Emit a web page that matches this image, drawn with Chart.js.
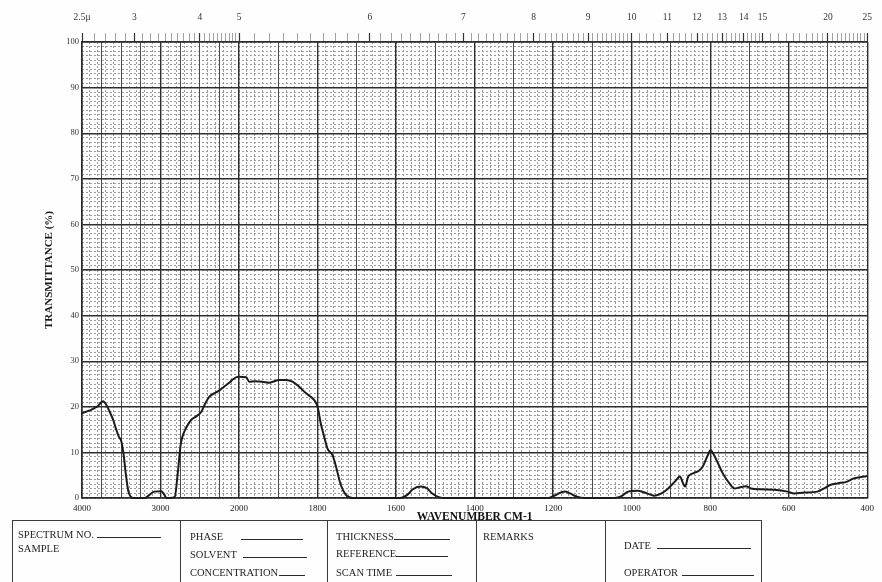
<!DOCTYPE html>
<html>
<head>
<meta charset="utf-8">
<title>Infrared spectrum</title>
<script src="https://cdn.jsdelivr.net/npm/chart.js@4/dist/chart.umd.min.js"></script>
<style>
  html, body { margin: 0; padding: 0; background: #ffffff; }
  #sheet { position: relative; width: 882px; height: 582px; overflow: hidden; background: #fefefe; }
  #spectrum { position: absolute; left: 0; top: 0; }
  .form-box { position: absolute; left: 12px; top: 520px; width: 750px; height: 80px; border: 1px solid #3a3a3a; box-sizing: border-box; }
  .form-col { position: absolute; top: 520px; width: 0; height: 70px; border-left: 1px solid #3a3a3a; }
  .fld { position: absolute; font-family: 'Liberation Serif', 'DejaVu Serif', serif; font-size: 10.5px; line-height: 12px; color: #1e1e1e; white-space: nowrap; }
  .ln { display: inline-block; border-bottom: 1px solid #2a2a2a; height: 8px; vertical-align: baseline; margin-left: 3px; }
</style>
</head>
<body>
<div id="sheet">
  <canvas id="spectrum" width="882" height="582"></canvas>

  <div class="form-box"></div>
  <div class="form-col" style="left:180px"></div>
  <div class="form-col" style="left:327px"></div>
  <div class="form-col" style="left:476px"></div>
  <div class="form-col" style="left:605px"></div>

  <div class="fld" style="left:18px;top:529px">SPECTRUM NO.<span class="ln" style="width:64px"></span></div>
  <div class="fld" style="left:18px;top:543px">SAMPLE</div>

  <div class="fld" style="left:190px;top:531px">PHASE<span class="ln" style="width:62px;margin-left:18px"></span></div>
  <div class="fld" style="left:190px;top:549px">SOLVENT<span class="ln" style="width:64px;margin-left:6px"></span></div>
  <div class="fld" style="left:190px;top:567px">CONCENTRATION<span class="ln" style="width:26px;margin-left:1px"></span></div>

  <div class="fld" style="left:336px;top:531px">THICKNESS<span class="ln" style="width:56px;margin-left:0"></span></div>
  <div class="fld" style="left:336px;top:548px">REFERENCE<span class="ln" style="width:52px;margin-left:0"></span></div>
  <div class="fld" style="left:336px;top:567px">SCAN TIME<span class="ln" style="width:56px;margin-left:4px"></span></div>

  <div class="fld" style="left:483px;top:531px">REMARKS</div>

  <div class="fld" style="left:624px;top:540px">DATE<span class="ln" style="width:94px;margin-left:6px"></span></div>
  <div class="fld" style="left:624px;top:567px">OPERATOR<span class="ln" style="width:72px;margin-left:4px"></span></div>
</div>

<script>
// Recorded trace: wavenumber (cm-1) and transmittance (%)
const wavenumber = [
  4000, 3900, 3810, 3730, 3690, 3645, 3600, 3560, 3530, 3500, 3470, 3440, 3410, 3380, 3350,
  3200, 3140, 3080, 2990, 2950, 2925, 2880, 2820, 2780, 2745, 2720, 2680, 2610, 2545, 2480,
  2440, 2380, 2310, 2250, 2200, 2130, 2080, 2030, 2000,
  1982, 1974, 1960, 1940, 1923, 1897, 1880, 1864, 1847, 1830, 1809, 1800, 1792, 1783, 1775,
  1762, 1754, 1741, 1728, 1711,
  1590, 1570, 1559, 1538, 1521, 1508, 1491, 1475,
  1212, 1200, 1170, 1157, 1140, 1119, 1043, 1026, 1009, 984, 958, 941, 924, 907, 890, 877,
  869, 864, 856, 844, 827, 819, 806, 799, 793, 780, 768, 751, 738, 726, 709, 696, 671, 637,
  603, 586, 561, 527, 510, 493, 476, 451, 434, 408, 400
];
const transmittance = [
  18.6, 19.2, 20.0, 21.2, 20.4, 18.8, 17.0, 14.8, 13.4, 12.5, 9.5, 5.0, 1.5, 0.3, 0.0,
  0.0, 0.7, 1.4, 1.5, 0.7, 0.0, 0.0, 0.2, 5.5, 11.5, 13.5, 15.2, 17.1, 17.9, 18.9,
  20.4, 22.2, 23.0, 23.6, 24.3, 25.2, 26.0, 26.5, 26.6,
  26.5, 25.5, 25.6, 25.5, 25.3, 25.9, 25.9, 25.5, 24.4, 23.0, 21.5, 20.0, 16.4, 13.4, 10.9,
  9.4, 7.2, 2.9, 0.7, 0.0,
  0.0, 0.8, 1.8, 2.5, 2.1, 1.0, 0.2, 0.0,
  0.0, 0.4, 1.4, 1.0, 0.3, 0.0, 0.0, 0.4, 1.4, 1.6, 0.9, 0.5, 1.0, 2.1, 3.6, 4.7,
  3.2, 2.5, 4.7, 5.4, 6.1, 6.9, 9.4, 10.5, 9.8, 7.6, 5.4, 3.2, 2.1, 2.3, 2.6, 2.1, 1.9, 1.8,
  1.4, 1.0, 1.2, 1.4, 2.1, 2.9, 3.2, 3.6, 4.3, 4.7, 4.8
];

// Axis labels
const wavenumberLabels = [4000, 3000, 2000, 1800, 1600, 1400, 1200, 1000, 800, 600, 400];
const micronLabels = [2.5, 3, 4, 5, 6, 7, 8, 9, 10, 11, 12, 13, 14, 15, 20, 25];
const transmittanceLabels = [0, 10, 20, 30, 40, 50, 60, 70, 80, 90, 100];

// Chart paper: 4000-2000 cm-1 at 1000 cm-1 per division, 2000-400 cm-1 at 200 cm-1 per division
const WN_START = 4000, WN_BREAK = 2000, WN_END = 400;
const HIGH_STEP = 1000, LOW_STEP = 200;
const HIGH_DIVS = (WN_START - WN_BREAK) / HIGH_STEP;
const TOTAL_DIVS = HIGH_DIVS + (WN_BREAK - WN_END) / LOW_STEP;

function wnToDiv(v) {
  return v >= WN_BREAK ? (WN_START - v) / HIGH_STEP : HIGH_DIVS + (WN_BREAK - v) / LOW_STEP;
}
function divToWn(d) {
  return d <= HIGH_DIVS ? WN_START - d * HIGH_STEP : WN_BREAK - (d - HIGH_DIVS) * LOW_STEP;
}

class WavenumberScale extends Chart.LinearScale {
  getPixelForValue(value) {
    return this.left + this.width * wnToDiv(value) / TOTAL_DIVS;
  }
  getValueForPixel(pixel) {
    return divToWn((pixel - this.left) / this.width * TOTAL_DIVS);
  }
}
WavenumberScale.id = 'wavenumber';
WavenumberScale.defaults = {};
Chart.register(WavenumberScale);

// Grid rulings
function range(from, to, step) {
  const out = [];
  const n = Math.round((to - from) / step);
  for (let i = 0; i <= n; i++) out.push(+(from + i * step).toFixed(4));
  return out;
}
const rulingX = [...range(WN_BREAK, WN_START, 250).reverse(), ...range(WN_END, WN_BREAK - 100, 100).reverse()];
const fineX = [...range(WN_BREAK, WN_START, 100).reverse(), ...range(WN_END, WN_BREAK - 20, 20).reverse()];
const micronTicks = [...range(2.5, 10, 0.1), ...range(10.2, 15, 0.2), ...range(15.5, 25, 0.5)];

const SERIF = "'Liberation Serif', 'DejaVu Serif', serif";
Chart.defaults.font.family = SERIF;
Chart.defaults.color = '#222';

const isLabelled = (v) => wavenumberLabels.includes(v);
const isMicronLabel = (m) => micronLabels.some(x => Math.abs(x - m) < 1e-6);

new Chart(document.getElementById('spectrum'), {
  type: 'line',
  data: {
    datasets: [{
      data: wavenumber.map((w, i) => ({ x: w, y: transmittance[i] })),
      xAxisID: 'x',
      yAxisID: 'y',
      borderColor: '#1b1b1b',
      borderWidth: 2,
      pointRadius: 0,
      cubicInterpolationMode: 'monotone',
      clip: 4
    }]
  },
  options: {
    responsive: false,
    animation: false,
    events: [],
    layout: { padding: { left: 0, right: 12, top: 0, bottom: 54 } },
    plugins: { legend: { display: false }, tooltip: { enabled: false } },
    scales: {
      xFine: {
        type: 'wavenumber', axis: 'x', position: 'bottom', min: WN_END, max: WN_START,
        afterBuildTicks: (s) => { s.ticks = fineX.map(v => ({ value: v })); },
        afterFit: (s) => { s.height = 0; },
        ticks: { display: false, autoSkip: false },
        grid: { drawTicks: false, color: '#9a9a9a', lineWidth: 1, z: -2, borderDash: [2, 2] },
        border: { display: false, dash: [2, 2] }
      },
      yFine: {
        type: 'linear', axis: 'y', position: 'left', min: 0, max: 100,
        afterBuildTicks: (s) => { s.ticks = range(0, 100, 1).map(v => ({ value: v })); },
        afterFit: (s) => { s.width = 0; },
        ticks: { display: false, autoSkip: false },
        grid: { drawTicks: false, color: '#9a9a9a', lineWidth: 1, z: -2, borderDash: [2, 2] },
        border: { display: false, dash: [2, 2] }
      },
      x: {
        type: 'wavenumber', axis: 'x', position: 'bottom', min: WN_END, max: WN_START,
        afterBuildTicks: (s) => { s.ticks = rulingX.map(v => ({ value: v })); },
        afterFit: (s) => { s.height = 30; },
        ticks: {
          autoSkip: false, maxRotation: 0, padding: 5,
          font: { size: 9 }, color: '#222',
          callback: (v) => (isLabelled(v) ? String(v) : '')
        },
        grid: {
          drawTicks: false, z: -1,
          color: (c) => (c.tick && isLabelled(c.tick.value) ? '#2e2e2e' : '#4a4a4a'),
          lineWidth: (c) => (c.tick && isLabelled(c.tick.value) ? 1.4 : 1)
        },
        border: { display: true, color: '#2a2a2a', width: 1.5 },
        title: {
          display: true, text: 'WAVENUMBER CM-1', color: '#111',
          font: { size: 11.5, weight: 'bold' }, padding: { top: 0, bottom: 4 }
        }
      },
      xTop: {
        type: 'wavenumber', axis: 'x', position: 'top', min: WN_END, max: WN_START,
        afterBuildTicks: (s) => { s.ticks = micronTicks.map(m => ({ value: 1e4 / m })); },
        afterFit: (s) => { s.height = 42; },
        ticks: {
          autoSkip: false, maxRotation: 0, padding: 10,
          font: { size: 9.5 }, color: '#333',
          callback: (v, i) => {
            const m = micronTicks[i];
            if (!isMicronLabel(m)) return '';
            return m === 2.5 ? '2.5\u03bc' : String(m);
          }
        },
        grid: {
          drawOnChartArea: false, drawTicks: true, tickLength: 9,
          tickColor: (c) => (c.tick && isMicronLabel(1e4 / c.tick.value) ? '#333' : '#8a8a8a'),
          tickWidth: (c) => (c.tick && isMicronLabel(1e4 / c.tick.value) ? 1.2 : 0.8)
        },
        border: { display: true, color: '#2e2e2e', width: 1.4 }
      },
      y: {
        type: 'linear', axis: 'y', position: 'left', min: 0, max: 100,
        afterBuildTicks: (s) => { s.ticks = transmittanceLabels.map(v => ({ value: v })); },
        afterFit: (s) => { s.width = 82; },
        ticks: { autoSkip: false, padding: 3, font: { size: 8.5 }, color: '#333' },
        grid: { drawTicks: false, z: -1, color: '#2e2e2e', lineWidth: 1.4 },
        border: { display: true, color: '#2a2a2a', width: 1.5 },
        title: {
          display: true, text: 'TRANSMITTANCE (%)', color: '#1a1a1a',
          font: { size: 11, weight: 'bold' }, padding: { top: 43, bottom: 0 }
        }
      }
    }
  }
});
</script>
</body>
</html>
